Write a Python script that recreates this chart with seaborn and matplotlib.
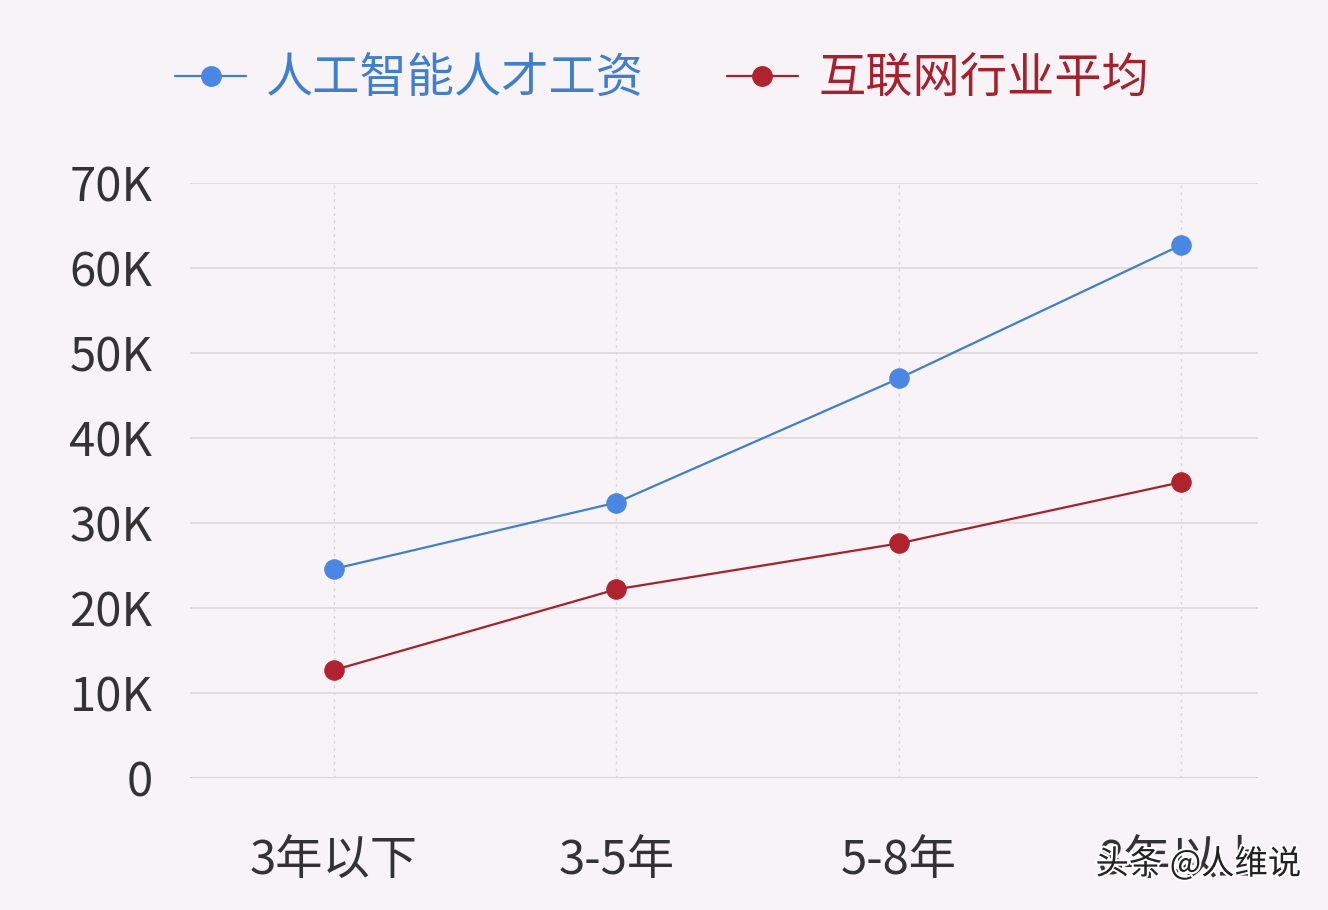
import pandas as pd
import numpy as np
import matplotlib.pyplot as plt
import seaborn as sns
import matplotlib.patheffects as pe

# data
categories = ['3年以下', '3-5年', '5-8年', '8年以上']
ai_salary = [24600, 32400, 47000, 62700]
internet_avg = [12700, 22200, 27600, 34800]
series_names = ['人工智能人才工资', '互联网行业平均']
yticks = [0, 10000, 20000, 30000, 40000, 50000, 60000, 70000]
ytick_labels = ['0', '10K', '20K', '30K', '40K', '50K', '60K', '70K']

df = pd.DataFrame({
    'cat': categories * 2,
    'x': list(range(len(categories))) * 2,
    'value': ai_salary + internet_avg,
    'series': [series_names[0]] * 4 + [series_names[1]] * 4,
})

sns.set_theme(style='white')
plt.rcParams['font.family'] = ['Noto Sans CJK SC', 'DejaVu Sans']

bg = '#f7f3f7'
palette = {series_names[0]: '#3f7fd0', series_names[1]: '#a8202c'}
marker_colors = {series_names[0]: '#4a86e3', series_names[1]: '#b0222e'}

fig = plt.figure(figsize=(13.28, 9.10), dpi=100, facecolor=bg)
ax = fig.add_axes([0.143, 0.145, 0.804, 0.654])
ax.set_facecolor(bg)

sns.lineplot(data=df, x='x', y='value', hue='series', palette=palette,
             marker='o', markersize=14, linewidth=1.6, ax=ax, legend=False)
# markers a bit brighter than the line
for line, name in zip(ax.lines, series_names):
    line.set_markerfacecolor(marker_colors[name])
    line.set_markeredgecolor(marker_colors[name])

ax.set_xlim(-0.51, 3.27)
ax.set_ylim(0, 70000)
ax.set_yticks(yticks)
ax.set_yticklabels(ytick_labels)
ax.set_xticks(range(len(categories)))
ax.set_xticklabels(categories)
ax.tick_params(axis='y', labelsize=34, colors='#333333', pad=27, length=0)
ax.tick_params(axis='x', labelsize=34, colors='#333333', pad=42, length=0)
ax.set_xlabel('')
ax.set_ylabel('')

for y in yticks:
    ax.axhline(y, color='#d9d5d9' if y else '#c9c5c9', lw=1.1, zorder=0)
for i in range(len(categories)):
    ax.axvline(i, color='#dcd8dc', lw=1, ls=(0, (2, 3)), zorder=0)
for s in ax.spines.values():
    s.set_visible(False)

# legend
handles = [plt.Line2D([], [], color=palette[n], marker='o', markersize=14,
                      markerfacecolor=marker_colors[n], markeredgecolor=marker_colors[n],
                      lw=1.6) for n in series_names]
leg = fig.legend(handles, series_names, loc='center left', bbox_to_anchor=(0.132, 0.913),
                 ncol=2, frameon=False, fontsize=34, handlelength=1.5,
                 handletextpad=0.43, columnspacing=1.75, borderpad=0, borderaxespad=0)
for t, n in zip(leg.get_texts(), series_names):
    t.set_color(palette[n])

# watermark (overlaps the last tick label, as in the source image)
fig.text(0.980, 0.050, '头条 @人维说', ha='right', va='center', fontsize=24, color='#222222',
         path_effects=[pe.withStroke(linewidth=3, foreground='white')])

plt.savefig('out.png', dpi=100, facecolor=bg)
